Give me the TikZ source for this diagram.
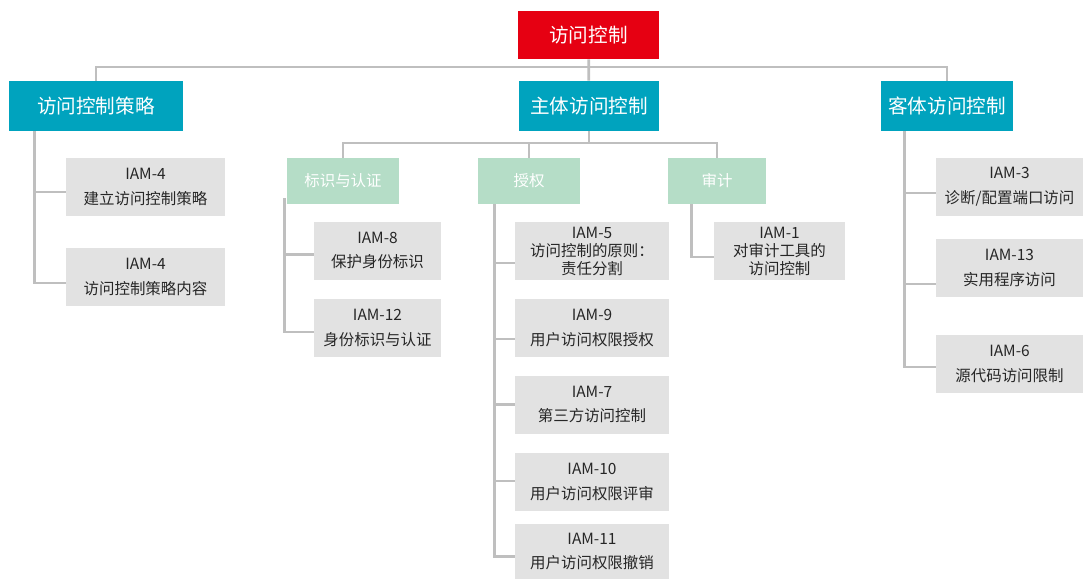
\documentclass[tikz,border=0pt]{standalone}
\usepackage{fontspec}
\setmainfont{Noto Sans CJK SC}
\usetikzlibrary{positioning}
\definecolor{hdred}{HTML}{E60012}
\definecolor{mainteal}{HTML}{00A3BE}
\definecolor{mintgreen}{HTML}{B5DDC7}
\definecolor{leafgrey}{HTML}{E2E2E2}
\definecolor{linegrey}{HTML}{BFBFBF}
\definecolor{inkgrey}{HTML}{262626}
\def\bigfont{\fontsize{14.7}{17}\selectfont}
\def\leaffont{\fontsize{11.6}{18.5}\selectfont}
\def\tightfont{\fontsize{11.6}{13.5}\selectfont}
\tikzstyle{rootbox}=[fill=hdred, text=white, inner sep=0pt, minimum width=105.75pt,
                     minimum height=36pt, font=\bigfont]
\tikzstyle{mainbox}=[fill=mainteal, text=white, inner sep=0pt, minimum height=37.5pt, font=\bigfont]
\tikzstyle{subbox}=[fill=mintgreen, text=white, inner sep=0pt, minimum height=34.5pt, font=\leaffont]
\tikzstyle{leaf}=[fill=leafgrey, text=inkgrey, inner sep=0pt, align=center,
                  minimum height=43.5pt, font=\leaffont]
\tikzstyle{link}=[draw=linegrey, line width=2.1pt]

\begin{document}
\begin{tikzpicture}[x=0.75pt, y=-0.75pt]
  \useasboundingbox (0,0) rectangle (1083,579);

  \node[rootbox] (root) at (588.5,35) {访问控制};

  \node[mainbox, minimum width=130.5pt] (policy)  at (96,106)  {访问控制策略};
  \node[mainbox, minimum width=105pt]   (subject) at (589,106) {主体访问控制};
  \node[mainbox, minimum width=99pt]    (object)  at (947,106) {客体访问控制};

  \node[subbox, minimum width=84pt]   (ident) at (343,181) {标识与认证};
  \node[subbox, minimum width=76.5pt] (grant) at (529,181) {授权};
  \node[subbox, minimum width=73.5pt] (audit) at (717,181) {审计};

  % policy leaves
  \node[leaf, minimum width=119.25pt] (p1) at (145.5,187) {IAM-4\\建立访问控制策略};
  \node[leaf, minimum width=119.25pt] (p2) at (145.5,277) {IAM-4\\访问控制策略内容};

  % identity leaves
  \node[leaf, minimum width=95.25pt] (i1) at (377.5,250.5) {IAM-8\\保护身份标识};
  \node[leaf, minimum width=95.25pt] (i2) at (377.5,328)   {IAM-12\\身份标识与认证};

  % grant leaves
  \node[leaf, minimum width=115.5pt, font=\tightfont] (g1) at (592,251) {IAM-5\\访问控制的原则：\\责任分割};
  \node[leaf, minimum width=115.5pt] (g2) at (592,328)   {IAM-9\\用户访问权限授权};
  \node[leaf, minimum width=115.5pt] (g3) at (592,404.5) {IAM-7\\第三方访问控制};
  \node[leaf, minimum width=115.5pt] (g4) at (592,482)   {IAM-10\\用户访问权限评审};
  \node[leaf, minimum width=115.5pt, minimum height=41.25pt] (g5) at (592,551.5) {IAM-11\\用户访问权限撤销};

  % audit leaf
  \node[leaf, minimum width=98.25pt, font=\tightfont] (a1) at (779.5,251) {IAM-1\\对审计工具的\\访问控制};

  % object leaves
  \node[leaf, minimum width=110.25pt] (o1) at (1009.5,187) {IAM-3\\诊断/配置端口访问};
  \node[leaf, minimum width=110.25pt] (o2) at (1009.5,268) {IAM-13\\实用程序访问};
  \node[leaf, minimum width=110.25pt] (o3) at (1009.5,364) {IAM-6\\源代码访问限制};

  % buses
  \coordinate (bus1) at (0,67);
  \coordinate (bus2) at (0,143);
  \draw[link] (root) -- (subject);
  \draw[link] (policy.north) |- (bus1 -| object.north) -- (object.north);
  \draw[link] (subject) -- (subject |- bus2);
  \draw[link] (ident.north) |- (bus2 -| audit.north) -- (audit.north);
  \draw[link] (grant) -- (grant |- bus2);

  % trunks
  \foreach \n/\d in {p1/5,p2/6}
    \draw[link] ([shift={(26,0)}]policy.south west) |- ([shift={(0,\d)}]\n.west);
  \foreach \n/\d in {i1/4,i2/4}
    \draw[link] ([shift={(-2,-6)}]ident.south west) |- ([shift={(0,\d)}]\n.west);
  \foreach \n/\d in {g1/12,g2/11,g3/0,g4/-1,g5/5}
    \draw[link] ([shift={(17,0)}]grant.south west) |- ([shift={(0,\d)}]\n.west);
  \draw[link] ([shift={(24,0)}]audit.south west) |- ([shift={(0,6)}]a1.west);
  \foreach \n/\d in {o1/6,o2/16,o3/3}
    \draw[link] ([shift={(24,0)}]object.south west) |- ([shift={(0,\d)}]\n.west);

\end{tikzpicture}
\end{document}
